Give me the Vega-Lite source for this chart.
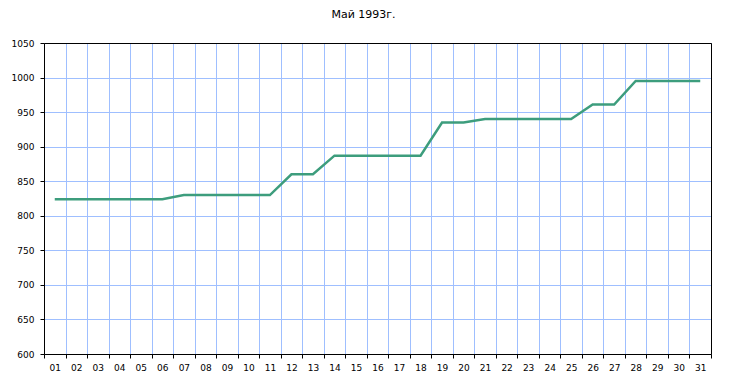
{
  "$schema": "https://vega.github.io/schema/vega-lite/v6.json",
  "autosize": "none",
  "width": 667,
  "height": 311,
  "padding": {"left": 44, "top": 43, "right": 19, "bottom": 36},
  "background": "white",
  "title": {
    "text": "Май 1993г.",
    "font": "DejaVu Sans",
    "fontSize": 11,
    "fontWeight": "normal",
    "color": "black",
    "anchor": "middle",
    "dx": -14,
    "offset": 19
  },
  "config": {
    "view": {"stroke": "black", "strokeWidth": 1},
    "axis": {
      "labelFont": "DejaVu Sans",
      "labelFontSize": 9,
      "labelColor": "black",
      "domainColor": "black",
      "tickColor": "black",
      "tickSize": 4,
      "gridColor": "#9fbfff",
      "gridOpacity": 1,
      "gridWidth": 1,
      "title": null
    }
  },
  "data": {
    "values": [
      {"day": "01", "value": 824},
      {"day": "02", "value": 824},
      {"day": "03", "value": 824},
      {"day": "04", "value": 824},
      {"day": "05", "value": 824},
      {"day": "06", "value": 824},
      {"day": "07", "value": 830},
      {"day": "08", "value": 830},
      {"day": "09", "value": 830},
      {"day": "10", "value": 830},
      {"day": "11", "value": 830},
      {"day": "12", "value": 860},
      {"day": "13", "value": 860},
      {"day": "14", "value": 887},
      {"day": "15", "value": 887},
      {"day": "16", "value": 887},
      {"day": "17", "value": 887},
      {"day": "18", "value": 887},
      {"day": "19", "value": 935},
      {"day": "20", "value": 935},
      {"day": "21", "value": 940},
      {"day": "22", "value": 940},
      {"day": "23", "value": 940},
      {"day": "24", "value": 940},
      {"day": "25", "value": 940},
      {"day": "26", "value": 961},
      {"day": "27", "value": 961},
      {"day": "28", "value": 995},
      {"day": "29", "value": 995},
      {"day": "30", "value": 995},
      {"day": "31", "value": 995}
    ]
  },
  "encoding": {
    "x": {
      "field": "day",
      "type": "ordinal",
      "scale": {"type": "band", "paddingInner": 0, "paddingOuter": 0}
    },
    "y": {
      "field": "value",
      "type": "quantitative",
      "scale": {"domain": [600, 1050], "nice": false, "zero": false}
    }
  },
  "layer": [
    {
      "mark": {"type": "line", "color": "#3d9d7d", "strokeWidth": 2.5},
      "encoding": {
        "x": {
          "field": "day",
          "type": "ordinal",
          "axis": {"labelAngle": 0, "tickBand": "extent", "grid": true, "labelPadding": 5}
        },
        "y": {
          "field": "value",
          "type": "quantitative",
          "axis": {"values": [600, 650, 700, 750, 800, 850, 900, 950, 1000, 1050], "format": "d", "grid": true, "labelPadding": 6}
        }
      }
    },
    {
      "mark": {"type": "line", "opacity": 0},
      "encoding": {
        "x": {
          "field": "day",
          "type": "ordinal",
          "axis": {"orient": "top", "labels": false, "ticks": false, "grid": false, "domain": true, "domainColor": "black", "zindex": 2}
        },
        "y": {
          "field": "value",
          "type": "quantitative",
          "axis": {"orient": "right", "labels": false, "ticks": false, "grid": false, "domain": true, "domainColor": "black", "zindex": 2}
        }
      }
    }
  ],
  "resolve": {"axis": {"x": "independent", "y": "independent"}}
}
